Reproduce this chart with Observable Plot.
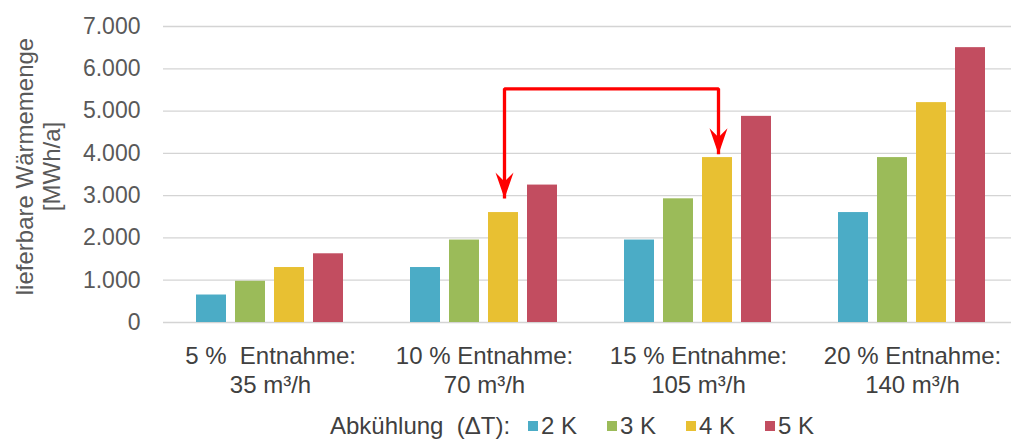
<!DOCTYPE html>
<html>
<head>
<meta charset="utf-8">
<script src="https://cdn.jsdelivr.net/npm/d3@7"></script>
<script src="https://cdn.jsdelivr.net/npm/@observablehq/plot@0.6"></script>
<style>
  body { margin: 0; background: #fff; font-family: "Liberation Sans", Arial, sans-serif; }
  #chart svg { display: block; }
  #legend { display: flex; align-items: center; height: 26px; padding-top: 13px; font-size: 24px; color: #404040; white-space: pre; }
  #legend .title { display: inline-block; width: 198px; padding-left: 330px; box-sizing: content-box; }
  #legend .item { display: inline-flex; align-items: center; width: 79px; }
  #legend .sw { display: inline-block; width: 10px; height: 10px; margin-right: 3px; }
</style>
</head>
<body>
<div id="chart"></div>
<div id="legend"></div>
<script>
// ---- data ----
const groupKeys = ["5 %", "10 %", "15 %", "20 %"];
const groupLine1 = ["5 %  Entnahme:", "10 % Entnahme:", "15 % Entnahme:", "20 % Entnahme:"];
const groupLine2 = ["35 m³/h", "70 m³/h", "105 m³/h", "140 m³/h"];
const seriesNames = ["2 K", "3 K", "4 K", "5 K"];
const seriesColors = ["#4bacc6", "#9bbb59", "#e8c032", "#c24d60"];
const values2K = [650, 1300, 1950, 2600];
const values3K = [975, 1950, 2925, 3900];
const values4K = [1300, 2600, 3900, 5200];
const values5K = [1625, 3250, 4875, 6500];
const yTicks = [0, 1000, 2000, 3000, 4000, 5000, 6000, 7000];
const yTickLabels = ["0", "1.000", "2.000", "3.000", "4.000", "5.000", "6.000", "7.000"];
const yTitle = "lieferbare Wärmemenge\n[MWh/a]";
const legendTitle = "Abkühlung  (ΔT):";
// arrow between the 4 K bars of 10 % and 15 %
const arrowGroups = ["10 %", "10 %", "15 %", "15 %"];
const arrowValues = [2930, 5525, 5525, 3980];
const arrowTipGroups = ["10 %", "15 %"];
const arrowTipValues = [2930, 3980];

// ---- build tables ----
const seriesValues = [values2K, values3K, values4K, values5K];
const table = [];
seriesNames.forEach((s, si) => groupKeys.forEach((g, gi) => table.push({group: g, series: s, value: seriesValues[si][gi]})));
const arrowPath = arrowGroups.map((g, i) => ({g, v: arrowValues[i]}));
const arrowTips = arrowTipGroups.map((g, i) => ({g, v: arrowTipValues[i]}));

const headSymbol = {
  draw(ctx) {
    ctx.moveTo(0, 0);
    ctx.lineTo(-9, -26);
    ctx.lineTo(0, -17);
    ctx.lineTo(9, -26);
    ctx.closePath();
  }
};

const bandW = 214, barW = 30, barStep = 39, firstOff = 33;
const barMarks = seriesNames.map((s, i) => Plot.barY(table.filter(d => d.series === s), {
  x: "group", y: "value", fill: seriesColors[i],
  insetLeft: firstOff + barStep * i,
  insetRight: bandW - (firstOff + barStep * i + barW)
}));

const chart = Plot.plot({
  width: 1011, height: 400,
  marginLeft: 163, marginRight: 0, marginTop: 26, marginBottom: 78,
  x: {domain: groupKeys, range: [163, 1019], padding: 0, axis: null},
  y: {domain: [0, 7000], axis: null},
  style: {fontFamily: "'Liberation Sans', Arial, sans-serif", whiteSpace: "pre", background: "#fff"},
  marks: [
    Plot.ruleY(yTicks, {stroke: "#d4d4d4", strokeWidth: 1.3}),
    Plot.text(yTicks, {y: d => d, text: (d, i) => yTickLabels[i], frameAnchor: "left", dx: -23, textAnchor: "end", fontSize: 23, fill: "#595959", style: "letter-spacing:0.6px"}),
    ...barMarks,
    Plot.text(groupKeys, {x: d => d, text: (d, i) => groupLine1[i] + "\n" + groupLine2[i], frameAnchor: "bottom", lineAnchor: "top", dy: 21, fontSize: 24, lineHeight: 1.2, fill: "#404040"}),
    Plot.text([yTitle], {text: d => d, frameAnchor: "left", textAnchor: "middle", rotate: -90, dx: -126, dy: -8, fontSize: 24, lineHeight: 1.15, fill: "#595959"}),
    Plot.line(arrowPath, {x: "g", y: "v", dx: 20, stroke: "#ff0000", strokeWidth: 3.3, strokeLinejoin: "miter", strokeLinecap: "butt"}),
    Plot.dot(arrowTips, {x: "g", y: "v", dx: 20, symbol: headSymbol, fill: "#ff0000", stroke: null})
  ]
});
document.getElementById("chart").append(chart);

const legend = document.getElementById("legend");
const t = document.createElement("span");
t.className = "title"; t.textContent = legendTitle;
legend.append(t);
seriesNames.forEach((s, i) => {
  const it = document.createElement("span"); it.className = "item";
  const sw = document.createElement("span"); sw.className = "sw"; sw.style.background = seriesColors[i];
  const lb = document.createElement("span"); lb.textContent = s;
  it.append(sw, lb); legend.append(it);
});
</script>
</body>
</html>
